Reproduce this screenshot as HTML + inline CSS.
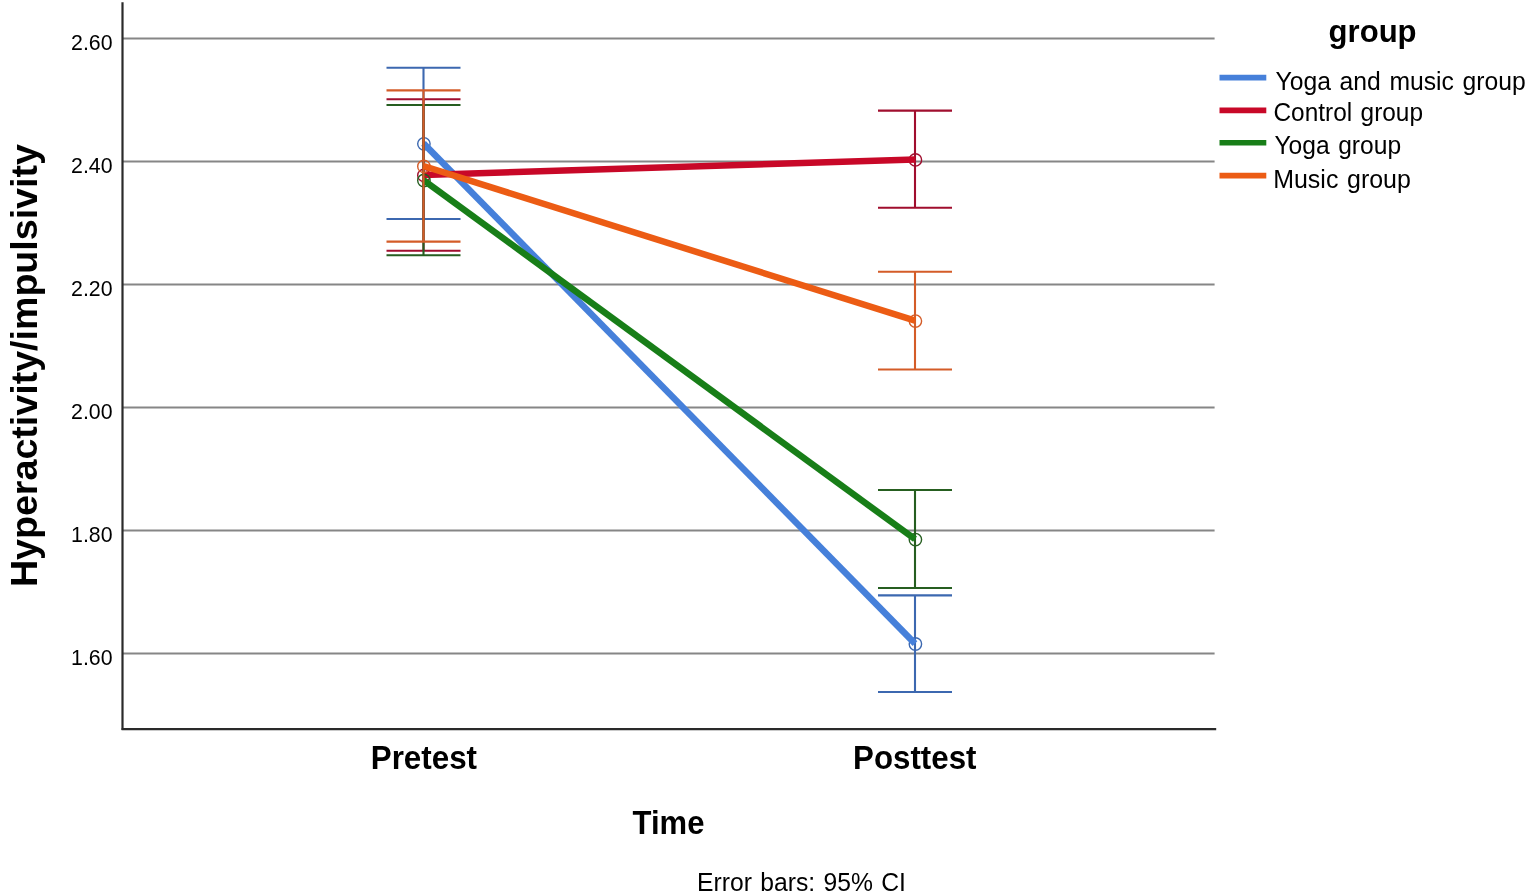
<!DOCTYPE html>
<html lang="en"><head><meta charset="utf-8"><title>Hyperactivity/impulsivity by time and group</title>
<style>html,body{margin:0;padding:0;background:#fff;overflow:hidden;}svg{display:block;}text{font-family:"Liberation Sans",sans-serif;fill:#000;}</style></head><body>
<svg width="1535" height="895" viewBox="0 0 1535 895">
<rect width="1535" height="895" fill="#ffffff"/>
<line x1="123" y1="38.5" x2="1214.6" y2="38.5" stroke="#868686" stroke-width="1.9"/>
<line x1="123" y1="161.5" x2="1214.6" y2="161.5" stroke="#868686" stroke-width="1.9"/>
<line x1="123" y1="284.5" x2="1214.6" y2="284.5" stroke="#868686" stroke-width="1.9"/>
<line x1="123" y1="407.5" x2="1214.6" y2="407.5" stroke="#868686" stroke-width="1.9"/>
<line x1="123" y1="530.5" x2="1214.6" y2="530.5" stroke="#868686" stroke-width="1.9"/>
<line x1="123" y1="653.5" x2="1214.6" y2="653.5" stroke="#868686" stroke-width="1.9"/>
<line x1="122.5" y1="2.2" x2="122.5" y2="730" stroke="#2a2a2a" stroke-width="2.2"/>
<line x1="121.6" y1="729.2" x2="1216.2" y2="729.2" stroke="#2a2a2a" stroke-width="2.2"/>
<text x="112.6" y="49.5" font-size="22.6" text-anchor="end" textLength="41.5" lengthAdjust="spacingAndGlyphs">2.60</text>
<text x="112.6" y="172.5" font-size="22.6" text-anchor="end" textLength="41.5" lengthAdjust="spacingAndGlyphs">2.40</text>
<text x="112.6" y="295.5" font-size="22.6" text-anchor="end" textLength="41.5" lengthAdjust="spacingAndGlyphs">2.20</text>
<text x="112.6" y="418.5" font-size="22.6" text-anchor="end" textLength="41.5" lengthAdjust="spacingAndGlyphs">2.00</text>
<text x="112.6" y="541.5" font-size="22.6" text-anchor="end" textLength="41.5" lengthAdjust="spacingAndGlyphs">1.80</text>
<text x="112.6" y="664.5" font-size="22.6" text-anchor="end" textLength="41.5" lengthAdjust="spacingAndGlyphs">1.60</text>
<g stroke="#3c68b0" fill="none">
<path d="M386.5 67.7H460.5M386.5 219.0H460.5M423.5 67.7V219.0" stroke-width="2.1"/>
<circle cx="423.9" cy="143.8" r="6.2" stroke-width="1.4"/>
<path d="M878.0 595.4H952.0M878.0 692H952.0M915.0 595.4V692" stroke-width="2.1"/>
<circle cx="915.4" cy="644.0" r="6.2" stroke-width="1.4"/>
<line x1="423.5" y1="143.4" x2="915.0" y2="643.6" stroke="#4680da" stroke-width="6.5"/>
</g>
<g stroke="#a00e2e" fill="none">
<path d="M386.5 99.3H460.5M386.5 250.8H460.5M423.5 99.3V250.8" stroke-width="2.1"/>
<circle cx="423.9" cy="175.4" r="6.2" stroke-width="1.4"/>
<path d="M878.0 110.6H952.0M878.0 207.8H952.0M915.0 110.6V207.8" stroke-width="2.1"/>
<circle cx="915.4" cy="159.9" r="6.2" stroke-width="1.4"/>
<line x1="423.5" y1="175.0" x2="915.0" y2="159.5" stroke="#c80828" stroke-width="6.5"/>
</g>
<g stroke="#265e20" fill="none">
<path d="M386.5 105.0H460.5M386.5 255.2H460.5M423.5 105.0V255.2" stroke-width="2.1"/>
<circle cx="423.9" cy="180.5" r="6.2" stroke-width="1.4"/>
<path d="M878.0 490H952.0M878.0 588H952.0M915.0 490V588" stroke-width="2.1"/>
<circle cx="915.4" cy="539.6" r="6.2" stroke-width="1.4"/>
<line x1="423.5" y1="180.1" x2="915.0" y2="539.2" stroke="#187e18" stroke-width="6.5"/>
</g>
<g stroke="#d45c28" fill="none">
<path d="M386.5 90.4H460.5M386.5 241.6H460.5M423.5 90.4V241.6" stroke-width="2.1"/>
<circle cx="423.9" cy="166.4" r="6.2" stroke-width="1.4"/>
<path d="M878.0 271.7H952.0M878.0 369.5H952.0M915.0 271.7V369.5" stroke-width="2.1"/>
<circle cx="915.4" cy="321.1" r="6.2" stroke-width="1.4"/>
<line x1="423.5" y1="166.0" x2="915.0" y2="320.7" stroke="#ec5c14" stroke-width="6.5"/>
</g>
<text x="1372.6" y="42.3" font-size="31.5" font-weight="bold" text-anchor="middle" textLength="88" lengthAdjust="spacingAndGlyphs">group</text>
<line x1="1219.5" y1="77.6" x2="1266.3" y2="77.6" stroke="#4680da" stroke-width="5.6"/>
<text x="1275.6" y="89.6" font-size="25.9" word-spacing="1.8" textLength="250.1" lengthAdjust="spacingAndGlyphs">Yoga and music group</text>
<line x1="1219.5" y1="110.4" x2="1266.3" y2="110.4" stroke="#c80828" stroke-width="5.6"/>
<text x="1273.5" y="121.3" font-size="25.9" word-spacing="1.8" textLength="149.5" lengthAdjust="spacingAndGlyphs">Control group</text>
<line x1="1219.5" y1="142.8" x2="1266.3" y2="142.8" stroke="#187e18" stroke-width="5.6"/>
<text x="1274.4" y="154.3" font-size="25.9" word-spacing="1.8" textLength="126.7" lengthAdjust="spacingAndGlyphs">Yoga group</text>
<line x1="1219.5" y1="175.6" x2="1266.3" y2="175.6" stroke="#ec5c14" stroke-width="5.6"/>
<text x="1273.2" y="187.6" font-size="25.9" word-spacing="1.8" textLength="137.7" lengthAdjust="spacingAndGlyphs">Music group</text>
<text x="423.9" y="768.9" font-size="32.5" font-weight="bold" text-anchor="middle" textLength="106.3" lengthAdjust="spacingAndGlyphs">Pretest</text>
<text x="914.8" y="768.9" font-size="32.5" font-weight="bold" text-anchor="middle" textLength="123.4" lengthAdjust="spacingAndGlyphs">Posttest</text>
<text x="668.5" y="833.6" font-size="32.5" font-weight="bold" text-anchor="middle" textLength="71.8" lengthAdjust="spacingAndGlyphs">Time</text>
<text x="801.5" y="890.9" font-size="25.7" word-spacing="1.5" text-anchor="middle" textLength="208.8" lengthAdjust="spacingAndGlyphs">Error bars: 95% CI</text>
<text transform="translate(37.1 365.6) rotate(-90)" font-size="37.6" font-weight="bold" text-anchor="middle" textLength="443" lengthAdjust="spacingAndGlyphs">Hyperactivity/impulsivity</text>
</svg></body></html>
